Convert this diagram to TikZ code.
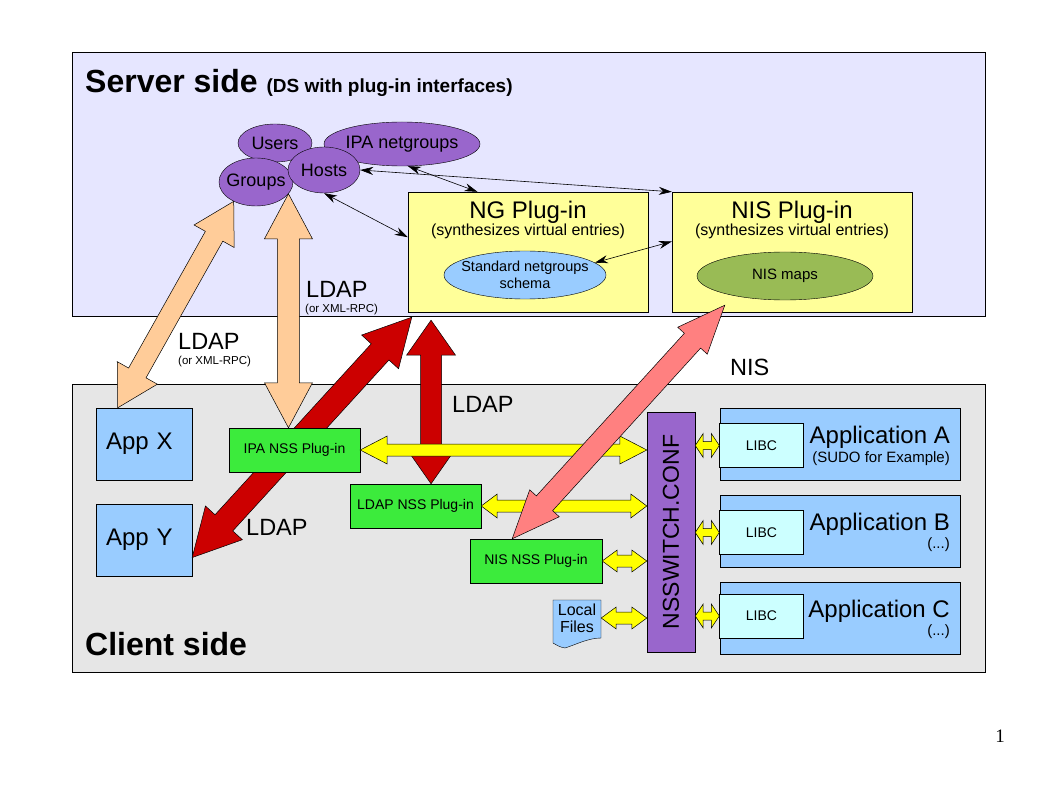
\documentclass[tikz,border=0pt]{standalone}
\usepackage{fontspec}
\setmainfont{Liberation Sans}
\newfontfamily\pagefont{Liberation Serif}
\usetikzlibrary{shapes.geometric,arrows.meta,calc}

\definecolor{serverbg}{RGB}{230,230,255}
\definecolor{clientbg}{RGB}{230,230,230}
\definecolor{entpurple}{RGB}{153,102,204}
\definecolor{plugyellow}{RGB}{255,255,153}
\definecolor{schemablue}{RGB}{153,204,255}
\definecolor{mapgreen}{RGB}{153,187,85}
\definecolor{nssgreen}{RGB}{60,235,60}
\definecolor{libccyan}{RGB}{204,255,255}
\definecolor{ldappeach}{RGB}{255,204,153}
\definecolor{ldapred}{RGB}{204,0,0}
\definecolor{nispink}{RGB}{255,128,128}
\definecolor{nssyellow}{RGB}{255,255,0}

\newcommand\fsz[1]{\fontsize{#1}{#1}\selectfont}

\newcommand\fatarrow[6]{%
  \path (#1) coordinate (fatA) (#2) coordinate (fatB);
  \pgfmathanglebetweenpoints{\pgfpointanchor{fatA}{center}}{\pgfpointanchor{fatB}{center}}%
  \let\fatang\pgfmathresult
  \pgfpointdiff{\pgfpointanchor{fatA}{center}}{\pgfpointanchor{fatB}{center}}%
  \pgfgetlastxy{\fatdx}{\fatdy}%
  \pgfmathsetmacro\fatlen{veclen(\fatdx,\fatdy)}%
  \pgfmathsetmacro\fatend{\fatlen-#6}%
  \filldraw[fill=#3, draw=black, line width=0.5pt, shift={(fatA)}, rotate=\fatang]
    (0pt,0pt) -- (#6pt,#5pt) -- (#6pt,#4pt) -- (\fatend pt,#4pt) -- (\fatend pt,#5pt)
    -- (\fatlen pt,0pt) -- (\fatend pt,-#5pt) -- (\fatend pt,-#4pt) -- (#6pt,-#4pt)
    -- (#6pt,-#5pt) -- cycle;
}

\tikzset{
  panel/.style={draw, line width=0.6pt},
  lbl/.style={anchor=base west, inner sep=0pt},
  blob/.style={ellipse, draw, inner sep=0pt},
  entity/.style={blob, fill=entpurple, font=\fsz{18}},
  plugbox/.style={draw, fill=plugyellow, minimum width=240, minimum height=120},
  appbox/.style={draw, fill=schemablue, inner sep=10pt, text width=76pt, align=left, font=\fsz{24}},
  nssbox/.style={draw, fill=nssgreen, minimum width=131, minimum height=44, font=\fsz{14}},
  progbox/.style={draw, fill=schemablue, minimum width=240, minimum height=72},
  libcbox/.style={draw, fill=libccyan, minimum width=84, minimum height=44, font=\fsz{14}},
  apptext/.style={anchor=base east, inner sep=0pt},
  link/.style={line width=0.6pt, <->, >={Stealth[length=13pt,width=8pt]}},
}

\begin{document}
\begin{tikzpicture}[x=1pt,y=-1pt]
  \useasboundingbox (0,0) rectangle (1058,794);
  \draw[panel, fill=serverbg] (72,52) rectangle (985,316);
  \draw[panel, fill=clientbg] (72,384) rectangle (985,672);
  \node[lbl, font=\bfseries] (servertitle) at (85,93) {\fsz{32}Server side \fsz{19}(DS with plug-in interfaces)};
  \node[lbl, font=\bfseries\fsz{32}] (clienttitle) at (85,655) {Client side};

  \node[entity, minimum width=74, minimum height=38] (users) at (275,143) {\makebox[0pt]{Users}};
  \node[entity, minimum width=156, minimum height=44] (ipanet) at (402,144) {\makebox[0pt]{IPA netgroups}};
  \node[entity, minimum width=74, minimum height=48] (groups) at (256,182) {\makebox[0pt]{Groups}};
  \node[entity, minimum width=72, minimum height=46] (hosts) at (324,170) {\makebox[0pt]{Hosts}};

  \node[plugbox] (ng) at (528,252) {};
  \node[anchor=base, font=\fsz{24}] (ngtitle) at (528,219) {NG Plug-in};
  \node[anchor=base, font=\fsz{16}] (ngsub) at (528,236) {(synthesizes virtual entries)};
  \node[blob, fill=schemablue, minimum width=162, minimum height=48] (ngschema) at (525,275) {};
  \node[align=center, font=\fontsize{14.5}{17}\selectfont] (ngschematext) at (ngschema) {Standard netgroups\\schema};
  \node[plugbox] (nis) at (792,252) {};
  \node[anchor=base, font=\fsz{24}] (nistitle) at (792,219) {NIS Plug-in};
  \node[anchor=base, font=\fsz{16}] (nissub) at (792,236) {(synthesizes virtual entries)};
  \node[blob, fill=mapgreen, minimum width=176, minimum height=48, font=\fsz{15}] (nismaps) at (785,276) {\makebox[0pt]{NIS maps}};

  \draw[link] (hosts.east) -- (nis.north west);
  \draw[link] (ipanet.-75) -- (ng.130);
  \draw[link] (hosts.south) -- (ng.173);
  \draw[link] (ngschema.10) -- (nis.175);

  \node[appbox, minimum height=72] (appx) at (144,444) {App X};
  \node[appbox, minimum height=72] (appy) at (144,540) {App Y};

  \fatarrow{appy.-20}{$(ng.south west)+(4,5)$}{ldapred}{12}{25}{47}

  \node[nssbox] (ipanss) at (294.5,450) {IPA NSS Plug-in};
  \node[nssbox] (ldapnss) at (415.5,506) {LDAP NSS Plug-in};
  \node[nssbox, minimum width=132] (nisnss) at (536,561) {NIS NSS Plug-in};

  \fatarrow{appx.126}{groups.-139}{ldappeach}{10}{23}{40}
  \fatarrow{ipanss.north -| groups.-20}{groups.-20}{ldappeach}{11}{24}{45}
  \fatarrow{ldapnss.55}{$(ldapnss.55 |- ng.south)+(0,8)$}{ldapred}{10.5}{24.5}{35}

  \node[draw, fill=entpurple, minimum width=48, minimum height=240] (nssw) at (671,532) {};
  \node[rotate=90, font=\fsz{23}] (nsswlabel) at (nssw) {NSSWITCH.CONF};

  \filldraw[fill=schemablue] (553,600) -- (601,600) -- (601,638)
    .. controls (588,638) and (575,645) .. (565,648) .. controls (560,647) .. (553,643) -- cycle;
  \node[align=center, font=\fontsize{16}{17}\selectfont, minimum width=48, inner sep=0pt] (files) at (577,618) {Local\\Files};

  \node[progbox] (appa) at (840,444) {};
  \node[libcbox] (libca) at (761.5,445.5) {LIBC};
  \node[apptext, font=\fsz{24}] (appatitle) at (950,443) {Application A};
  \node[apptext, font=\fsz{15}] (appanote) at (950,462) {(SUDO for Example)};
  \node[progbox] (appb) at (840,531) {};
  \node[libcbox] (libcb) at (761.5,532.5) {LIBC};
  \node[apptext, font=\fsz{24}] (appbtitle) at (950,530) {Application B};
  \node[apptext, font=\fsz{15}] (appbnote) at (950,548) {(...)};
  \node[progbox] (appc) at (840,618) {};
  \node[libcbox] (libcc) at (761.5,616) {LIBC};
  \node[apptext, font=\fsz{24}] (appctitle) at (950,617) {Application C};
  \node[apptext, font=\fsz{15}] (appcnote) at (950,635) {(...)};

  \fatarrow{ipanss.east}{nssw.west |- ipanss.east}{nssyellow}{6}{14}{27}
  \fatarrow{ldapnss.east}{nssw.west |- ldapnss.east}{nssyellow}{6}{12}{16}
  \fatarrow{nisnss.east}{nssw.west |- nisnss.east}{nssyellow}{6}{11}{15}
  \fatarrow{files.east}{nssw.west |- files.east}{nssyellow}{6}{11}{15}
  \fatarrow{nssw.east |- libca.west}{libca.west}{nssyellow}{4}{12}{8}
  \fatarrow{nssw.east |- libcb.west}{libcb.west}{nssyellow}{4}{12}{8}
  \fatarrow{nssw.east |- libcc.west}{libcc.west}{nssyellow}{4}{12}{8}

  \fatarrow{nisnss.137}{$(nis.south west)+(53,-7)$}{nispink}{11}{20}{48}

  \node[lbl, font=\fsz{23.5}] (ldapa) at (306,298) {LDAP};
  \node[lbl, font=\fsz{11.5}] (rpca) at (305,313) {(or XML-RPC)};
  \node[lbl, font=\fsz{23.5}] (ldapb) at (178,350) {LDAP};
  \node[lbl, font=\fsz{11.5}] (rpcb) at (178,365) {(or XML-RPC)};
  \node[lbl, font=\fsz{23.5}] (ldapc) at (452,412) {LDAP};
  \node[lbl, font=\fsz{23.5}] (ldapd) at (246,535) {LDAP};
  \node[lbl, font=\fsz{23.5}] (nislbl) at (730,375) {NIS};
  \node[anchor=base, font=\pagefont\fsz{19}] (pagenum) at (1000,742) {1};
\end{tikzpicture}
\end{document}
